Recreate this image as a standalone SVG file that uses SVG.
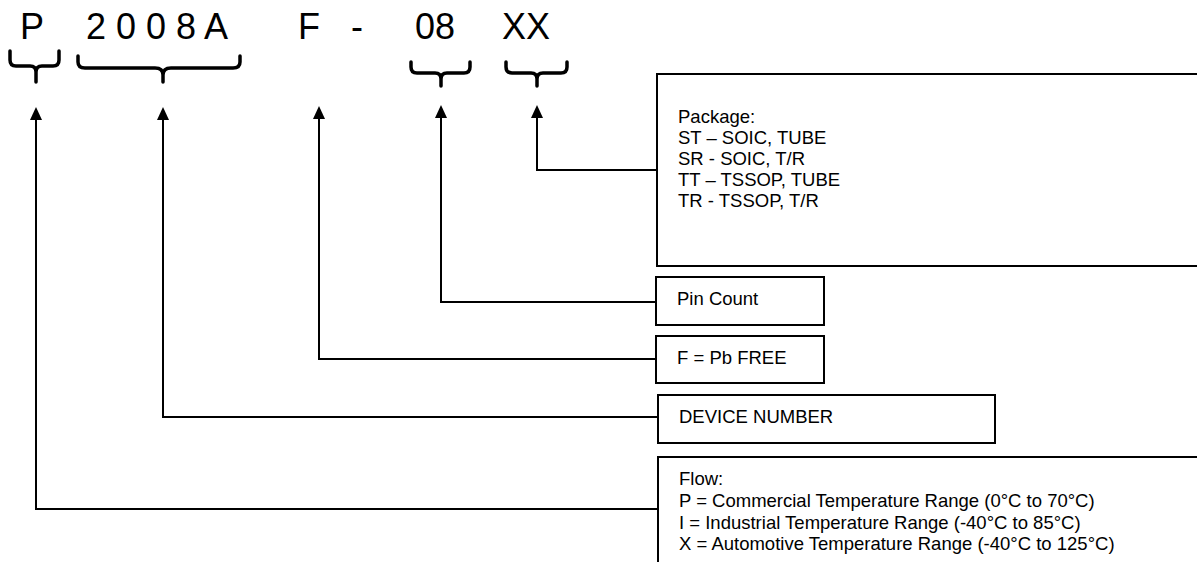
<svg xmlns="http://www.w3.org/2000/svg" width="1197" height="562" viewBox="0 0 1197 562">
<defs>
<style>
.code{font-family:"Liberation Sans",Arial,sans-serif;font-size:36px;fill:#000}
.t{font-family:"Liberation Sans",Arial,sans-serif;font-size:18.5px;fill:#000}
.box{fill:#fff;stroke:#000;stroke-width:2}
.brace{fill:none;stroke:#000;stroke-width:3.5;stroke-linecap:round}
.conn{fill:none;stroke:#000;stroke-width:2}
</style>
<marker id="ah" viewBox="0 0 13 12" refX="0" refY="6" markerWidth="13" markerHeight="12" markerUnits="userSpaceOnUse" orient="auto">
<path d="M0,0 L13,6 L0,12 Z" fill="#000"/>
</marker>
</defs>
<rect width="1197" height="562" fill="#fff"/>
<g id="code">
<text class="code" x="20" y="39">P</text>
<text class="code" x="86" y="39" xml:space="preserve">2 0 0 8 A</text>
<text class="code" x="298" y="39">F</text>
<text class="code" x="351" y="39">-</text>
<text class="code" x="415" y="39">08</text>
<text class="code" x="502" y="39">XX</text>
</g>
<g id="braces">
<path class="brace" d="M10,51 V60 Q10,66 16,66 H30 Q36,66 36,72 V82 M59,51 V60 Q59,66 53,66 H42 Q36,66 36,72"/>
<path class="brace" d="M78,56 V62 Q78,68 85,68 H155 Q163,68 163,75 V82 M240,56 V62 Q240,68 233,68 H171 Q163,68 163,75"/>
<path class="brace" d="M411,62 V67 Q411,73 417,73 H435 Q441,73 441,79 V86 M470,62 V67 Q470,73 464,73 H447 Q441,73 441,79"/>
<path class="brace" d="M506,62 V67 Q506,73 512,73 H531 Q537,73 537,79 V86 M567,62 V67 Q567,73 561,73 H543 Q537,73 537,79"/>
</g>
<g id="connectors">
<path class="conn" d="M658,509 H36 V120" marker-end="url(#ah)"/>
<path class="conn" d="M658,417 H163 V120" marker-end="url(#ah)"/>
<path class="conn" d="M656,359 H319 V119" marker-end="url(#ah)"/>
<path class="conn" d="M656,302 H441 V118" marker-end="url(#ah)"/>
<path class="conn" d="M657,170 H537 V118" marker-end="url(#ah)"/>
</g>
<g id="package">
<rect class="box" x="657" y="74" width="560" height="192"/>
<text class="t" x="678" y="123">Package:</text>
<text class="t" x="678" y="144">ST – SOIC, TUBE</text>
<text class="t" x="678" y="165">SR - SOIC, T/R</text>
<text class="t" x="678" y="186">TT – TSSOP, TUBE</text>
<text class="t" x="678" y="207">TR - TSSOP, T/R</text>
</g>
<g id="pincount">
<rect class="box" x="656" y="277" width="168" height="48"/>
<text class="t" x="677" y="305">Pin Count</text>
</g>
<g id="pbfree">
<rect class="box" x="656" y="336" width="168" height="47"/>
<text class="t" x="677" y="364">F = Pb FREE</text>
</g>
<g id="device">
<rect class="box" x="658" y="395" width="337" height="48"/>
<text class="t" x="679" y="423">DEVICE NUMBER</text>
</g>
<g id="flow">
<rect class="box" x="658" y="457" width="560" height="120"/>
<text class="t" x="679" y="485">Flow:</text>
<text class="t" x="679" y="507">P = Commercial Temperature Range (0°C to 70°C)</text>
<text class="t" x="679" y="529">I = Industrial Temperature Range (-40°C to 85°C)</text>
<text class="t" x="679" y="550">X = Automotive Temperature Range (-40°C to 125°C)</text>
</g>
</svg>
